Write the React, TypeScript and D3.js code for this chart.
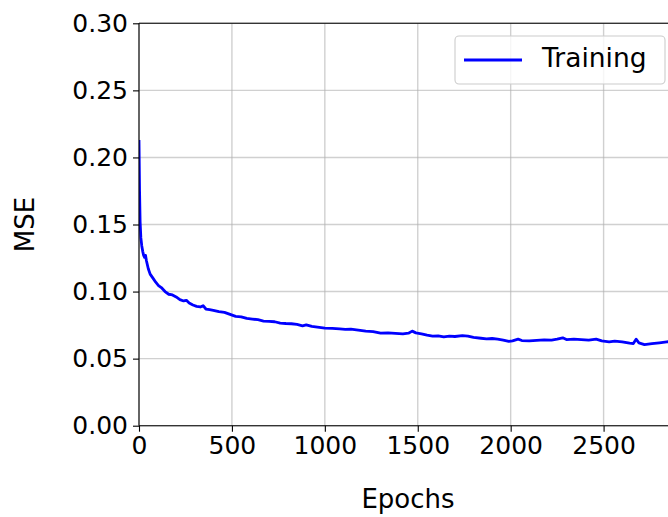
import React, { useEffect, useRef } from 'react';
import * as d3 from 'd3';

// training curve
const epochs = [
  0, 3, 6, 10, 15, 20, 25, 30, 35, 40, 50, 60, 75, 90, 105, 120, 140, 160, 180, 200,
  220, 240, 255, 270, 290, 310, 330, 345, 360, 380, 400, 430, 460, 490, 520, 550, 580, 610, 640, 670,
  700, 730, 760, 790, 820, 850, 880, 900, 930, 960, 1000, 1040, 1080, 1110, 1140, 1180, 1220, 1260, 1300, 1340,
  1380, 1420, 1450, 1470, 1490, 1520, 1550, 1580, 1610, 1640, 1670, 1700, 1740, 1770, 1800, 1840, 1870, 1900, 1930, 1960,
  1990, 2010, 2040, 2060, 2100, 2140, 2180, 2220, 2250, 2280, 2300, 2340, 2380, 2420, 2460, 2490, 2530, 2560, 2600, 2640,
  2660, 2675, 2690, 2720, 2760, 2800, 2840, 2880,
];
const mse = [
  0.213, 0.175, 0.152, 0.140, 0.134, 0.130, 0.127, 0.1255, 0.127, 0.123, 0.117, 0.113, 0.110, 0.107, 0.1045, 0.103, 0.100, 0.098, 0.0975, 0.096,
  0.094, 0.093, 0.0935, 0.0915, 0.090, 0.089, 0.0885, 0.0895, 0.087, 0.0865, 0.086, 0.085, 0.0845, 0.083, 0.0815, 0.0812, 0.080, 0.0795, 0.079, 0.078,
  0.0778, 0.0775, 0.0765, 0.0762, 0.076, 0.0755, 0.0745, 0.0752, 0.074, 0.0735, 0.0728, 0.0725, 0.0722, 0.0718, 0.072, 0.0712, 0.0705, 0.0702, 0.069, 0.0692,
  0.0688, 0.0685, 0.069, 0.0705, 0.0692, 0.0685, 0.0675, 0.0668, 0.067, 0.0662, 0.0668, 0.0665, 0.0672, 0.0668, 0.0658, 0.0652, 0.0648, 0.065, 0.0645, 0.0638,
  0.0628, 0.0632, 0.0645, 0.0635, 0.0632, 0.0636, 0.064, 0.0638, 0.0645, 0.0655, 0.0642, 0.0645, 0.0642, 0.0638, 0.0645, 0.0632, 0.0625, 0.063, 0.0625, 0.0615,
  0.0612, 0.0645, 0.0618, 0.0605, 0.0612, 0.0618, 0.0625, 0.063,
];
const xTicks = [0, 500, 1000, 1500, 2000, 2500];
const yTicks = [0, 0.05, 0.1, 0.15, 0.2, 0.25, 0.3];
const seriesName = 'Training';

const W = 668;
const H = 517;
const FONT = '"DejaVu Sans", sans-serif';

function App() {
  const ref = useRef<SVGSVGElement>(null);

  useEffect(() => {
    const svg = d3.select(ref.current);
    svg.selectAll('*').remove();

    const left = 139, right = 677, top = 23.3, bottom = 425.7;
    const x = d3.scaleLinear().domain([0, 2895]).range([left, right]);
    const y = d3.scaleLinear().domain([0, 0.3]).range([bottom, top]);

    // grid
    const grid = svg.append('g').attr('stroke', '#b0b0b0').attr('stroke-opacity', 0.6).attr('stroke-width', 1.4);
    grid.selectAll('.gx').data(xTicks).enter().append('line')
      .attr('x1', d => x(d)).attr('x2', d => x(d)).attr('y1', top).attr('y2', bottom);
    grid.selectAll('.gy').data(yTicks).enter().append('line')
      .attr('x1', left).attr('x2', right).attr('y1', d => y(d)).attr('y2', d => y(d));

    svg.append('clipPath').attr('id', 'plotclip').append('rect')
      .attr('x', left).attr('y', top).attr('width', right - left).attr('height', bottom - top);

    const line = d3.line<number>().x((_, i) => x(epochs[i])).y(d => y(d));
    svg.append('path')
      .datum(mse)
      .attr('clip-path', 'url(#plotclip)')
      .attr('d', line)
      .attr('fill', 'none')
      .attr('stroke', '#0000ff')
      .attr('stroke-width', 2.8)
      .attr('stroke-linejoin', 'round');

    // axes
    const xAxis = svg.append('g').attr('transform', `translate(0,${bottom})`)
      .call(d3.axisBottom(x).tickValues(xTicks).tickFormat(d3.format('d')).tickSizeInner(6).tickSizeOuter(0).tickPadding(5));
    const yAxis = svg.append('g').attr('transform', `translate(${left},0)`)
      .call(d3.axisLeft(y).tickValues(yTicks).tickFormat(d3.format('.2f')).tickSizeInner(6).tickSizeOuter(0).tickPadding(5));
    [xAxis, yAxis].forEach(a => {
      a.select('.domain').remove();
      a.selectAll('line').attr('stroke', '#000').attr('stroke-width', 1.1);
      a.selectAll('text').attr('font-family', FONT).attr('font-size', 25).attr('fill', '#000');
    });

    // spines
    const spines = svg.append('g').attr('stroke', '#000').attr('stroke-width', 1.1).attr('fill', 'none');
    spines.append('line').attr('x1', left).attr('x2', left).attr('y1', top).attr('y2', bottom);
    spines.append('line').attr('x1', left).attr('x2', right).attr('y1', bottom).attr('y2', bottom);
    spines.append('line').attr('x1', left).attr('x2', right).attr('y1', top).attr('y2', top);
    spines.append('line').attr('x1', right).attr('x2', right).attr('y1', top).attr('y2', bottom);

    // labels
    svg.append('text').attr('x', (left + right) / 2).attr('y', 508)
      .attr('text-anchor', 'middle').attr('font-family', FONT).attr('font-size', 26).text('Epochs');
    svg.append('text').attr('transform', `translate(34,${(top + bottom) / 2}) rotate(-90)`)
      .attr('text-anchor', 'middle').attr('font-family', FONT).attr('font-size', 26).text('MSE');

    // legend
    const lg = svg.append('g');
    lg.append('rect').attr('x', 455).attr('y', 36).attr('width', 210).attr('height', 48)
      .attr('rx', 4).attr('fill', '#fff').attr('fill-opacity', 0.8).attr('stroke', '#cccccc').attr('stroke-width', 1.1);
    lg.append('line').attr('x1', 464).attr('x2', 522).attr('y1', 60).attr('y2', 60)
      .attr('stroke', '#0000ff').attr('stroke-width', 2.8);
    lg.append('text').attr('x', 542).attr('y', 67).attr('font-family', FONT).attr('font-size', 26.5).text(seriesName);
  }, []);

  return (
    <svg ref={ref} width={W} height={H} style={{ position: 'absolute', left: 0, top: 0, background: '#fff' }} />
  );
}

export default App;
